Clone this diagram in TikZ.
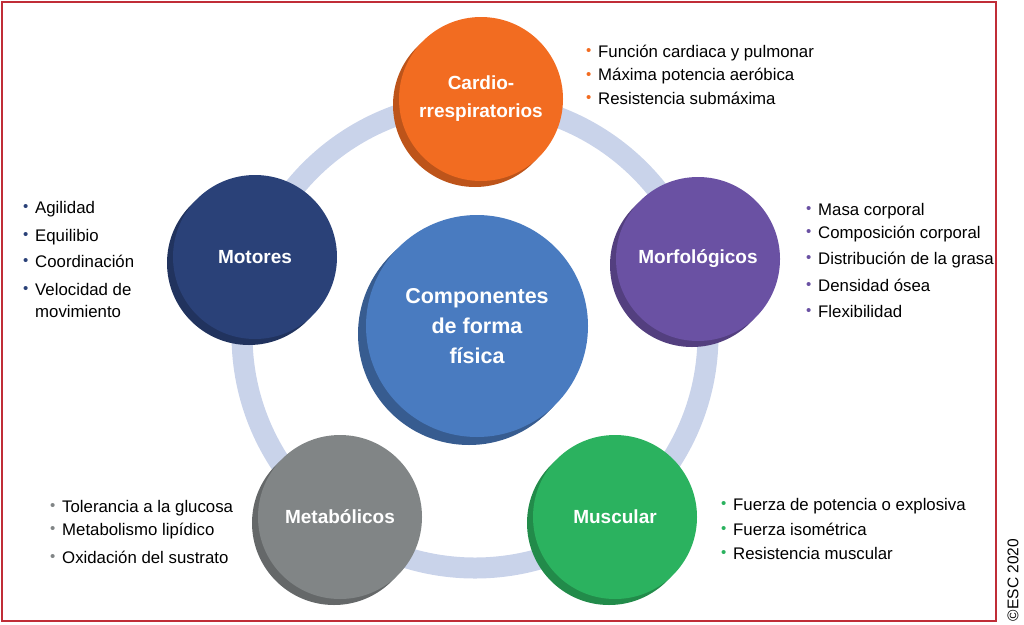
\documentclass[tikz,border=0pt]{standalone}
\usepackage{fontspec}
\setmainfont{Liberation Sans}
\usetikzlibrary{shadows}

\definecolor{cardioC}{RGB}{242,108,33}
\definecolor{centreC}{RGB}{73,123,192}
\definecolor{motorC}{RGB}{42,65,120}
\definecolor{morfoC}{RGB}{106,81,163}
\definecolor{metabC}{RGB}{129,133,134}
\definecolor{musclC}{RGB}{43,178,95}
\definecolor{ringC}{RGB}{201,211,234}
\definecolor{frameC}{RGB}{192,45,55}

\newcommand{\bul}[1]{\makebox[12pt][l]{\textcolor{#1}{\raisebox{1.5pt}{\fontsize{15}{15}\selectfont •}}}}

\tikzset{
  comp/.style={circle, inner sep=0pt, minimum size=164pt, align=center,
    text=white, fill=#1, font=\fontsize{19}{28}\selectfont\bfseries,
    drop shadow={shadow xshift=-6pt, shadow yshift=-6pt, opacity=1, fill=#1!78!black}},
  lst/.style={anchor=base west, inner sep=0pt, font=\fontsize{16.8}{20}\selectfont}
}

\begin{document}
\begin{tikzpicture}[x=1pt,y=-1pt]
    \useasboundingbox (0,0) rectangle (1024,624);
    \draw[frameC, line width=2pt] (2,2) rectangle (996,621);
    \node[circle, draw=ringC, line width=21pt, minimum size=466pt, inner sep=0pt] (ring) at (475,335) {};

    \node[comp=cardioC] (cardio) at (481,99) {Cardio-\\rrespiratorios};
    \node[comp=motorC] (motor) at (255,257) {Motores};
    \node[comp=morfoC] (morfo) at (698,259) {Morfológicos};
    \node[comp=metabC] (metab) at (340,517) {Metabólicos};
    \node[comp=musclC] (muscl) at (615,517) {Muscular};
    \node[comp=centreC, minimum size=222pt, font=\fontsize{21.5}{30}\selectfont\bfseries,
      drop shadow={shadow xshift=-8pt, shadow yshift=-8pt, opacity=1, fill=centreC!75!black}]
      (centre) at (477,326) {Componentes\\de forma\\física};

    \node[lst] (cardioL) at (586,57) {\begin{tabular}[t]{@{}l@{}l@{}}
      \bul{cardioC} & Función cardiaca y pulmonar\\[3.5pt]
      \bul{cardioC} & Máxima potencia aeróbica\\[3.5pt]
      \bul{cardioC} & Resistencia submáxima
    \end{tabular}};
    \node[lst] (motorL) at (23,213) {\begin{tabular}[t]{@{}l@{}l@{}}
      \bul{motorC} & Agilidad\\[8pt]
      \bul{motorC} & Equilibio\\[6pt]
      \bul{motorC} & Coordinación\\[8pt]
      \bul{motorC} & Velocidad de\\[2pt]
      & movimiento
    \end{tabular}};
    \node[lst] (morfoL) at (806,215) {\begin{tabular}[t]{@{}l@{}l@{}}
      \bul{morfoC} & Masa corporal\\[3pt]
      \bul{morfoC} & Composición corporal\\[6pt]
      \bul{morfoC} & Distribución de la grasa\\[7pt]
      \bul{morfoC} & Densidad ósea\\[6pt]
      \bul{morfoC} & Flexibilidad
    \end{tabular}};
    \node[lst] (metabL) at (50,512) {\begin{tabular}[t]{@{}l@{}l@{}}
      \bul{metabC} & Tolerancia a la glucosa\\[3pt]
      \bul{metabC} & Metabolismo lipídico\\[8pt]
      \bul{metabC} & Oxidación del sustrato
    \end{tabular}};
    \node[lst] (musclL) at (721,510) {\begin{tabular}[t]{@{}l@{}l@{}}
      \bul{musclC} & Fuerza de potencia o explosiva\\[5pt]
      \bul{musclC} & Fuerza isométrica\\[4pt]
      \bul{musclC} & Resistencia muscular
    \end{tabular}};

    \node[rotate=90, inner sep=0pt, font=\fontsize{15.5}{18}\selectfont] (esc) at (1013,580) {©ESC 2020};
\end{tikzpicture}
\end{document}
